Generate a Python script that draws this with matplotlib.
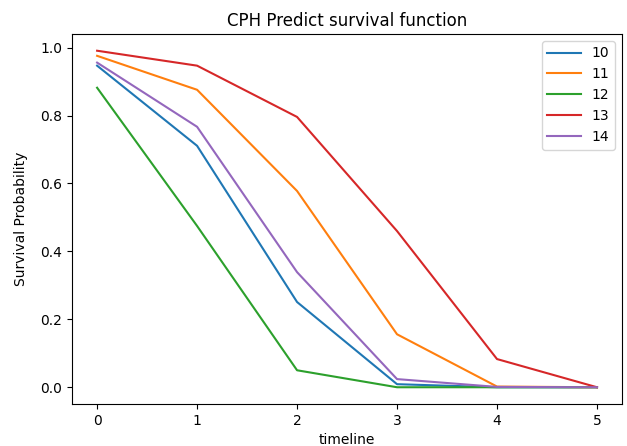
import matplotlib
matplotlib.use("Agg")
from matplotlib import pyplot as plt

timeline = [0, 1, 2, 3, 4, 5]
s10 = [0.947, 0.711, 0.251, 0.009, 0.0, 0.0]
s11 = [0.976, 0.876, 0.578, 0.156, 0.002, 0.0]
s12 = [0.882, 0.475, 0.050, 0.0, 0.0, 0.0]
s13 = [0.991, 0.947, 0.796, 0.460, 0.083, 0.0]
s14 = [0.956, 0.767, 0.339, 0.024, 0.001, 0.0]
labels = ["10", "11", "12", "13", "14"]

fig = plt.figure(figsize=(6.27, 4.46), dpi=100)
ax = fig.add_axes([0.115, 0.094, 0.877, 0.83])
for lab, s in zip(labels, [s10, s11, s12, s13, s14]):
    ax.plot(timeline, s, label=lab)
ax.set_title("CPH Predict survival function")
ax.set_xlabel("timeline")
ax.set_ylabel("Survival Probability", labelpad=9)
ax.legend(loc="upper right", handlelength=2.4)
fig.savefig("out.png", dpi=100)
